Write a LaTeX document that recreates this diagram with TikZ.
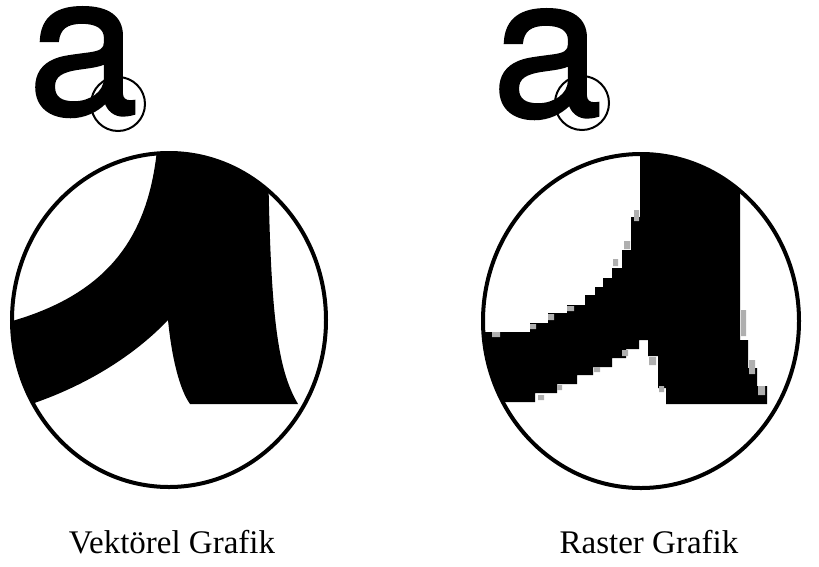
\documentclass[tikz,border=0pt]{standalone}
\usepackage{fontspec}
\setmainfont{Liberation Serif}
\newfontfamily\glyphfont[FakeBold=1.3]{TeX Gyre Heros}
\usepackage{tikz}
\usetikzlibrary{positioning}
\definecolor{inkblack}{RGB}{0, 0, 0}
\definecolor{pixgray}{RGB}{175, 175, 175}
\tikzset{
  biglens/.style={draw=inkblack, line width=4pt},
  smalllens/.style={draw=inkblack, line width=2pt},
  glyph/.style={anchor=base west, inner sep=0pt, text=inkblack,
    font=\glyphfont\fontsize{198pt}{198pt}\selectfont},
  caption/.style={anchor=base, inner sep=0pt, text=inkblack,
    font=\fontsize{33pt}{33pt}\selectfont}
}

\begin{document}
\begin{tikzpicture}[x=1pt, y=-1pt]
  \useasboundingbox (0,0) rectangle (819,566);

  % --- small letters with their magnifier rings ---
  \node[glyph] (veca) at (28,114) {a};
  \draw[smalllens] (118,104) circle (27);
  \node[glyph] (rasa) at (492,116) {a};
  \draw[smalllens] (582,103) circle (27);

  % --- vector close-up: smooth outline ---
  \begin{scope}
    \clip (169,320) ellipse (157 and 167);
    \fill[inkblack]
      (157,140) -- (157,150)
      .. controls (148,235) and (110,295) .. (5,323)
      -- (5,412)
      .. controls (80,392) and (135,355) .. (168,320)
      .. controls (172,360) and (180,390) .. (190,404)
      -- (298,404)
      .. controls (278,370) and (270,320) .. (268,150)
      -- (268,140) -- cycle;
  \end{scope}
  \draw[biglens] (169,320) ellipse (157 and 167);

  % --- raster close-up: staircase outline ---
  \begin{scope}
    \clip (641,321) ellipse (158 and 167);
    \fill[inkblack]
      (640,140) -- (740,140) -- (740,340) -- (748,340) -- (748,368)
      -- (757,368) -- (757,386) -- (767,386) -- (767,404) -- (666,404)
      -- (666,388) -- (658,388) -- (658,356) -- (648,356) -- (648,340)
      -- (639,340) -- (639,349) -- (626,349) -- (626,358) -- (612,358)
      -- (612,367) -- (593,367) -- (593,375) -- (577,375) -- (577,384)
      -- (557,384) -- (557,393) -- (535,393) -- (535,402) -- (470,402)
      -- (470,332) -- (530,332) -- (530,323) -- (548,323) -- (548,313)
      -- (567,313) -- (567,305) -- (585,305) -- (585,295) -- (595,295)
      -- (595,287) -- (603,287) -- (603,278) -- (612,278) -- (612,268)
      -- (622,268) -- (622,250) -- (631,250) -- (631,217) -- (640,217)
      -- cycle;
    % grey edge pixels
    \fill[pixgray]
      (492,332) rectangle (500,337) (530,324) rectangle (536,329)
      (548,314) rectangle (554,320) (567,306) rectangle (574,311)
      (538,395) rectangle (544,400) (557,385) rectangle (562,390)
      (594,367) rectangle (600,372) (622,350) rectangle (628,356)
      (741,310) rectangle (746,336) (749,360) rectangle (755,374)
      (758,386) rectangle (765,395) (659,386) rectangle (664,392)
      (649,357) rectangle (656,365) (634,210) rectangle (639,221)
      (624,241) rectangle (630,249) (613,259) rectangle (618,266);
  \end{scope}
  \draw[biglens] (641,321) ellipse (158 and 167);

  % --- captions ---
  \node[caption] (veclabel) at (172,553) {Vektörel Grafik};
  \node[caption] (raslabel) at (649,553) {Raster Grafik};

\end{tikzpicture}
\end{document}
